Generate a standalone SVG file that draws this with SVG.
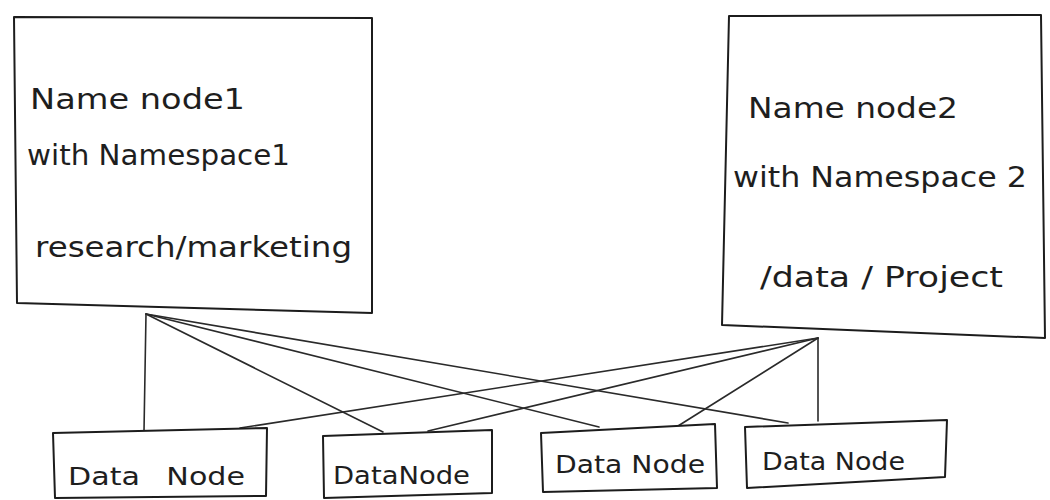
<svg xmlns="http://www.w3.org/2000/svg" width="1050" height="500" viewBox="0 0 1050 500">
  <style>
    .box { fill: #ffffff; stroke: #1c1c1c; stroke-width: 2; stroke-linejoin: round; }
    .link { stroke: #2a2a2a; stroke-width: 1.6; fill: none; stroke-linecap: round; }
    .label { font-family: "DejaVu Sans", "Liberation Sans", sans-serif; font-size: 28px; fill: #1e1e1e; }
    .small { font-size: 25px; }
  </style>
  <rect width="1050" height="500" fill="#ffffff"/>

  <!-- connectors from the two name nodes to every data node -->
  <g id="connectors">
    <line class="link" x1="146" y1="314" x2="144" y2="431"/>
    <line class="link" x1="146" y1="314" x2="383" y2="432"/>
    <line class="link" x1="146" y1="314" x2="599" y2="427"/>
    <line class="link" x1="146" y1="314" x2="788" y2="423"/>
    <line class="link" x1="818" y1="338" x2="818" y2="421"/>
    <line class="link" x1="818" y1="338" x2="678" y2="426"/>
    <line class="link" x1="818" y1="338" x2="428" y2="431"/>
    <line class="link" x1="818" y1="338" x2="240" y2="428"/>
  </g>

  <g id="namenode1">
    <polygon class="box" points="14,17 372,18 372,313 17,303"/>
    <text class="label" x="30" y="109" textLength="215" lengthAdjust="spacingAndGlyphs">Name node1</text>
    <text class="label" x="27" y="165" textLength="263" lengthAdjust="spacingAndGlyphs">with Namespace1</text>
    <text class="label" x="35" y="257" textLength="317" lengthAdjust="spacingAndGlyphs">research/marketing</text>
  </g>

  <g id="namenode2">
    <polygon class="box" points="729,16 1041,15 1045,338 722,325"/>
    <text class="label" x="748" y="118" textLength="210" lengthAdjust="spacingAndGlyphs">Name node2</text>
    <text class="label" x="733" y="187" textLength="294" lengthAdjust="spacingAndGlyphs">with Namespace 2</text>
    <text class="label" x="760" y="287" textLength="243" lengthAdjust="spacingAndGlyphs">/data / Project</text>
  </g>

  <g id="datanode1">
    <polygon class="box" points="53,433 267,428 266,496 55,498"/>
    <text class="label small" x="68" y="485" word-spacing="14" textLength="177" lengthAdjust="spacingAndGlyphs">Data Node</text>
  </g>

  <g id="datanode2">
    <polygon class="box" points="323,436 492,430 492,493 324,498"/>
    <text class="label small" x="333" y="484" textLength="137" lengthAdjust="spacingAndGlyphs">DataNode</text>
  </g>

  <g id="datanode3">
    <polygon class="box" points="541,433 715,424 717,488 543,492"/>
    <text class="label small" x="555" y="473" textLength="150" lengthAdjust="spacingAndGlyphs">Data Node</text>
  </g>

  <g id="datanode4">
    <polygon class="box" points="745,427 947,420 945,477 747,488"/>
    <text class="label small" x="762" y="470" textLength="143" lengthAdjust="spacingAndGlyphs">Data Node</text>
  </g>
</svg>
